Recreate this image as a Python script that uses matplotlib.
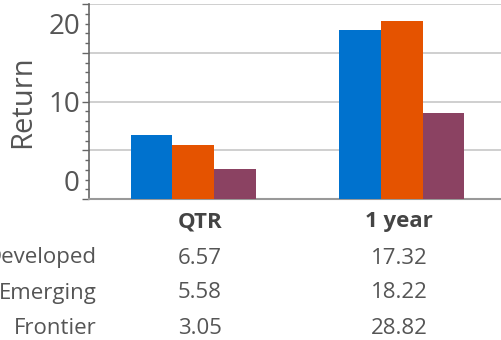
import numpy as np
import matplotlib
matplotlib.use("Agg")
import matplotlib.pyplot as plt
from matplotlib import transforms
from matplotlib.ticker import MultipleLocator, FuncFormatter

plt.rcParams['font.family'] = ['Open Sans', 'DejaVu Sans']

# returns by market, per period
periods = ['QTR', '1 year']
markets = ['Developed', 'Emerging', 'Frontier']
developed = [6.57, 17.32]
emerging = [5.58, 18.22]
frontier = [3.05, 8.82]
# figures printed in the table under the chart
table_text = [['6.57', '17.32'],
              ['5.58', '18.22'],
              ['3.05', '28.82']]

colors = ['#0072ce', '#e55300', '#8b4262']
text_grey = '#555555'

fig = plt.figure(figsize=(5.01, 3.4), dpi=100)
ax = fig.add_axes([0.1776, 0.4147, 0.8323, 0.5735])

x = np.arange(len(periods))
w = 0.2
for i, (vals, c) in enumerate(zip([developed, emerging, frontier], colors)):
    ax.bar(x + (i - 1) * w, vals, width=w, color=c, zorder=3)

ax.set_xlim(-0.5, 1.5)
ax.set_ylim(0, 20)
ax.set_xticks([])

ax.yaxis.set_major_locator(MultipleLocator(5))
ax.yaxis.set_minor_locator(MultipleLocator(1))
ax.yaxis.set_major_formatter(FuncFormatter(lambda v, p: '%d' % v if v % 10 == 0 else ''))
ax.tick_params(axis='y', which='major', length=5, width=1, color='#666666',
               labelsize=20, labelcolor=text_grey, pad=1.5)
ax.tick_params(axis='y', which='minor', length=3, width=1, color='#666666')
ax.grid(axis='y', which='major', color='#cccccc', linewidth=1.3, zorder=0)

# the outer labels sit a little toward the middle of the axis
fig.canvas.draw()
for lab in ax.get_yticklabels():
    v = lab.get_position()[1]
    if v == 0:
        lab.set_transform(lab.get_transform() + transforms.ScaledTranslation(0, 0.19, fig.dpi_scale_trans))
    elif v == 20:
        lab.set_transform(lab.get_transform() + transforms.ScaledTranslation(0, -0.19, fig.dpi_scale_trans))

ax.set_ylabel('Return', fontsize=21, color=text_grey, va='center')
ax.yaxis.set_label_coords(-0.158, 0.5)

for s in ['top', 'right']:
    ax.spines[s].set_visible(False)
ax.spines['left'].set_color('#666666')
ax.spines['left'].set_linewidth(1.2)
ax.spines['bottom'].set_color('#999999')
ax.spines['bottom'].set_linewidth(1.5)

# table under the chart
col_x = [0.399, 0.797]
head_y = 1 - 222 / 340
row_y = [1 - 258 / 340, 1 - 293 / 340, 1 - 328 / 340]
for cx, p in zip(col_x, periods):
    fig.text(cx, head_y, p, ha='center', va='center', fontsize=16,
             fontweight='bold', color='#444444')
for ry, m, row in zip(row_y, markets, table_text):
    fig.text(0.1936, ry, m, ha='right', va='center', fontsize=16, color=text_grey)
    for cx, t in zip(col_x, row):
        fig.text(cx, ry, t, ha='center', va='center', fontsize=16, color=text_grey)

fig.savefig('out.png', dpi=100)
